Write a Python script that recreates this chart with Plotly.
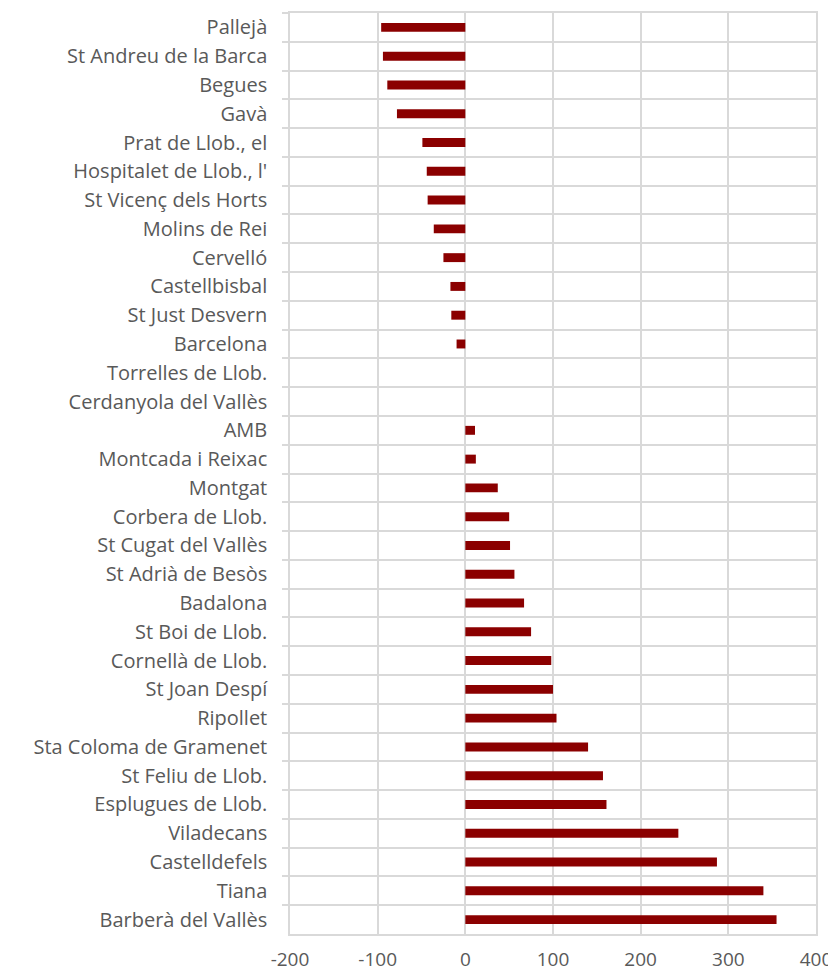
import plotly.graph_objects as go

municipalities = [
    "Pallejà", "St Andreu de la Barca", "Begues", "Gavà", "Prat de Llob., el",
    "Hospitalet de Llob., l'", "St Vicenç dels Horts", "Molins de Rei", "Cervelló",
    "Castellbisbal", "St Just Desvern", "Barcelona", "Torrelles de Llob.",
    "Cerdanyola del Vallès", "AMB", "Montcada i Reixac", "Montgat", "Corbera de Llob.",
    "St Cugat del Vallès", "St Adrià de Besòs", "Badalona", "St Boi de Llob.",
    "Cornellà de Llob.", "St Joan Despí", "Ripollet", "Sta Coloma de Gramenet",
    "St Feliu de Llob.", "Esplugues de Llob.", "Viladecans", "Castelldefels",
    "Tiana", "Barberà del Vallès",
]
values = [
    -96, -94, -89, -78, -49,
    -44, -43, -36, -25,
    -17, -16, -10, 0,
    0, 11, 12, 37, 50,
    51, 56, 67, 75,
    98, 100, 104, 140,
    157, 161, 243, 287,
    340, 355,
]
x_ticks = [-200, -100, 0, 100, 200, 300, 400]

font_family = "'Open Sans', Lato, sans-serif"
text_color = "#595959"
grid_color = "#d9d9d9"

fig = go.Figure(
    go.Bar(
        x=values,
        y=municipalities,
        orientation="h",
        marker=dict(color="#8B0000", line=dict(width=0)),
        hoverinfo="x+y",
    )
)

fig.update_layout(
    width=836,
    height=974,
    margin=dict(l=282, r=28, t=3, b=48),
    paper_bgcolor="white",
    plot_bgcolor="white",
    bargap=0.69,
    showlegend=False,
    font=dict(family=font_family, size=20, color=text_color),
    xaxis=dict(
        range=[-200, 400],
        tickvals=x_ticks,
        ticktext=[str(v) for v in x_ticks],
        showgrid=True,
        gridcolor=grid_color,
        gridwidth=1.5,
        zeroline=False,
        showline=True,
        mirror=True,
        linecolor=grid_color,
        linewidth=1.5,
        ticks="",
        ticklabelstandoff=7,
        tickfont=dict(family=font_family, size=19, color=text_color),
    ),
    yaxis=dict(
        type="category",
        autorange="reversed",
        tickson="boundaries",
        showgrid=True,
        gridcolor=grid_color,
        gridwidth=1.5,
        ticks="outside",
        ticklen=6,
        tickcolor=grid_color,
        tickwidth=1.5,
        zeroline=False,
        showline=True,
        mirror=True,
        linecolor=grid_color,
        linewidth=1.5,
        ticklabelstandoff=17,
        tickfont=dict(family=font_family, size=20, color=text_color),
    ),
)

fig.write_html("out.html")
